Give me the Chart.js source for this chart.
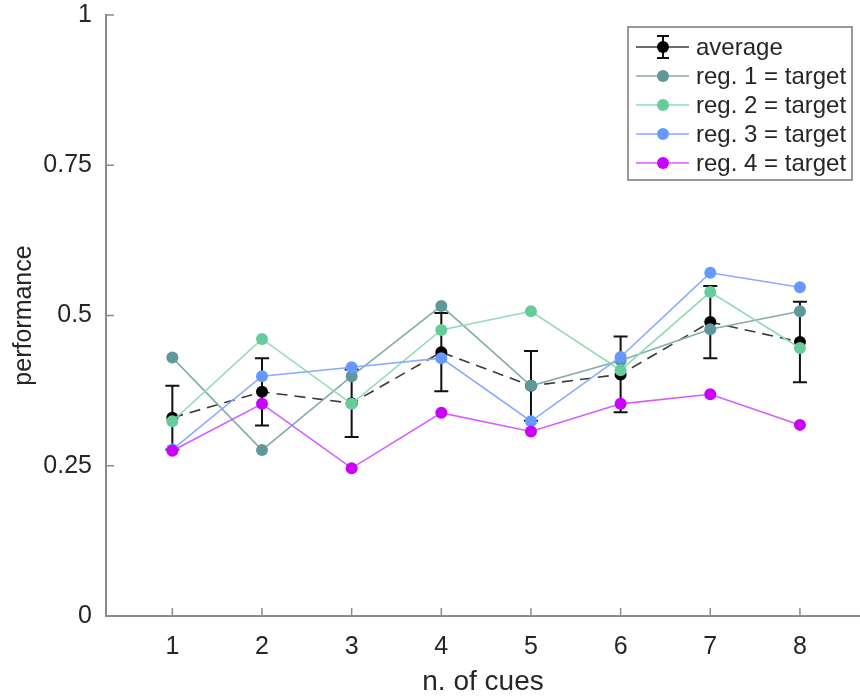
<!DOCTYPE html>
<html>
<head>
<meta charset="utf-8">
<script src="https://cdn.jsdelivr.net/npm/chart.js@4.4.1/dist/chart.umd.min.js"></script>
<style>
    html, body { margin: 0; padding: 0; background: #fff; }
    canvas { display: block; }
</style>
</head>
<body>
<canvas id="chart" width="860" height="697"></canvas>
<script>
// number of cues on the x axis
const cues = [1, 2, 3, 4, 5, 6, 7, 8];

// average performance with its error bar half-length
const average = [0.330, 0.373, 0.354, 0.439, 0.383, 0.402, 0.489, 0.456];
const averageErr = [0.053, 0.056, 0.056, 0.065, 0.058, 0.063, 0.060, 0.067];

// single region performance
const reg1 = [0.430, 0.276, 0.399, 0.516, 0.383, 0.425, 0.477, 0.507];
const reg2 = [0.324, 0.461, 0.353, 0.476, 0.507, 0.409, 0.539, 0.446];
const reg3 = [0.277, 0.399, 0.414, 0.429, 0.324, 0.431, 0.571, 0.547];
const reg4 = [0.275, 0.353, 0.246, 0.338, 0.307, 0.353, 0.369, 0.318];

const seriesLabels = ["average", "reg. 1 = target", "reg. 2 = target", "reg. 3 = target", "reg. 4 = target"];

const yTicks = [0, 0.25, 0.5, 0.75, 1];
const yTickLabels = ["0", "0.25", "0.5", "0.75", "1"];

const FONT = "'Liberation Sans', Arial, Helvetica, sans-serif";
const TEXT = "#262626";
const AXIS = "#8c8c8c";

function points(values) {
    return values.map((v, i) => ({ x: cues[i], y: v }));
}

function series(label, values, lineColor, pointColor, order) {
    return {
        label: label,
        data: points(values),
        borderColor: lineColor,
        backgroundColor: pointColor,
        pointBackgroundColor: pointColor,
        pointBorderColor: pointColor,
        pointRadius: 6,
        pointBorderWidth: 0,
        borderWidth: 1.6,
        tension: 0,
        order: order
    };
}

const datasets = [
    Object.assign(series(seriesLabels[0], average, "#3a3a3a", "#000000", 5), {
        borderDash: [11, 7],
        borderWidth: 1.6
    }),
    series(seriesLabels[1], reg1, "#84acac", "#5f9898", 4),
    series(seriesLabels[2], reg2, "#8fdcb4", "#66cc99", 3),
    series(seriesLabels[3], reg3, "#88aaff", "#6699ff", 2),
    series(seriesLabels[4], reg4, "#d65cff", "#cc00ff", 1)
];

// error bars of the average, under every line
const errorBars = {
    id: "errorBars",
    beforeDatasetsDraw(chart) {
        const ctx = chart.ctx;
        const x = chart.scales.x;
        const y = chart.scales.y;
        ctx.save();
        ctx.strokeStyle = "#111";
        ctx.lineWidth = 2;
        cues.forEach((c, i) => {
            const px = x.getPixelForValue(c);
            const top = y.getPixelForValue(average[i] + averageErr[i]);
            const bottom = y.getPixelForValue(average[i] - averageErr[i]);
            ctx.beginPath();
            ctx.moveTo(px, top);
            ctx.lineTo(px, bottom);
            ctx.moveTo(px - 7, top);
            ctx.lineTo(px + 7, top);
            ctx.moveTo(px - 7, bottom);
            ctx.lineTo(px + 7, bottom);
            ctx.stroke();
        });
        ctx.restore();
    }
};

// inward tick marks and the boxed legend
const axisExtras = {
    id: "axisExtras",
    afterDraw(chart) {
        const ctx = chart.ctx;
        const x = chart.scales.x;
        const y = chart.scales.y;
        const area = chart.chartArea;
        ctx.save();
        ctx.strokeStyle = AXIS;
        ctx.lineWidth = 1.5;
        ctx.beginPath();
        cues.forEach(c => {
            const px = x.getPixelForValue(c);
            ctx.moveTo(px, area.bottom);
            ctx.lineTo(px, area.bottom - 8);
        });
        yTicks.forEach(v => {
            const py = y.getPixelForValue(v);
            ctx.moveTo(area.left, py);
            ctx.lineTo(area.left + 8, py);
        });
        ctx.stroke();

        // legend
        const bx = 628, by = 27, bw = 224, bh = 153;
        ctx.fillStyle = "#fff";
        ctx.fillRect(bx, by, bw, bh);
        ctx.strokeStyle = "#999";
        ctx.lineWidth = 2;
        ctx.strokeRect(bx, by, bw, bh);

        ctx.font = "24px " + FONT;
        ctx.textBaseline = "middle";
        chart.data.datasets.forEach((ds, i) => {
            const ry = 47 + i * 29;
            ctx.strokeStyle = ds.borderColor;
            ctx.lineWidth = ds.borderWidth;
            ctx.setLineDash([]);
            ctx.beginPath();
            ctx.moveTo(636, ry);
            ctx.lineTo(689, ry);
            ctx.stroke();
            if (i === 0) {
                ctx.strokeStyle = "#111";
                ctx.lineWidth = 2;
                ctx.beginPath();
                ctx.moveTo(663, ry - 11);
                ctx.lineTo(663, ry + 11);
                ctx.moveTo(657, ry - 11);
                ctx.lineTo(669, ry - 11);
                ctx.moveTo(657, ry + 11);
                ctx.lineTo(669, ry + 11);
                ctx.stroke();
            }
            ctx.fillStyle = ds.pointBackgroundColor;
            ctx.beginPath();
            ctx.arc(663, ry, 6, 0, Math.PI * 2);
            ctx.fill();
            ctx.fillStyle = TEXT;
            ctx.fillText(ds.label, 696, ry + 1);
        });
        ctx.restore();
    }
};

new Chart(document.getElementById("chart"), {
    type: "line",
    data: { datasets: datasets },
    options: {
        responsive: false,
        devicePixelRatio: 1,
        animation: false,
        layout: { autoPadding: false, padding: { top: 15, right: 0, bottom: 0, left: 0 } },
        plugins: {
            legend: { display: false },
            tooltip: { enabled: false }
        },
        scales: {
            x: {
                type: "linear",
                min: 0.26,
                max: 8.67,
                afterFit: scale => {
                    scale.height = 81;
                    scale.paddingLeft = 0;
                    scale.paddingRight = 0;
                },
                afterBuildTicks: scale => { scale.ticks = cues.map(v => ({ value: v })); },
                grid: { display: false },
                border: { display: true, color: AXIS, width: 2 },
                ticks: {
                    color: TEXT,
                    padding: 8,
                    autoSkip: false,
                    maxRotation: 0,
                    font: { family: FONT, size: 25 },
                    callback: v => String(v)
                },
                title: {
                    display: true,
                    text: "n. of cues",
                    color: TEXT,
                    padding: { top: 0, bottom: -2 },
                    font: { family: FONT, size: 28 }
                }
            },
            y: {
                type: "linear",
                min: 0,
                max: 1,
                afterFit: scale => {
                    scale.width = 106;
                    scale.paddingTop = 0;
                    scale.paddingBottom = 0;
                },
                afterBuildTicks: scale => { scale.ticks = yTicks.map(v => ({ value: v })); },
                grid: { display: false },
                border: { display: true, color: AXIS, width: 2 },
                ticks: {
                    color: TEXT,
                    padding: 6,
                    font: { family: FONT, size: 25 },
                    callback: v => yTickLabels[yTicks.indexOf(v)]
                },
                title: {
                    display: true,
                    text: "performance",
                    color: TEXT,
                    padding: { top: 9, bottom: 0 },
                    font: { family: FONT, size: 25 }
                }
            }
        }
    },
    plugins: [errorBars, axisExtras]
});
</script>
</body>
</html>
